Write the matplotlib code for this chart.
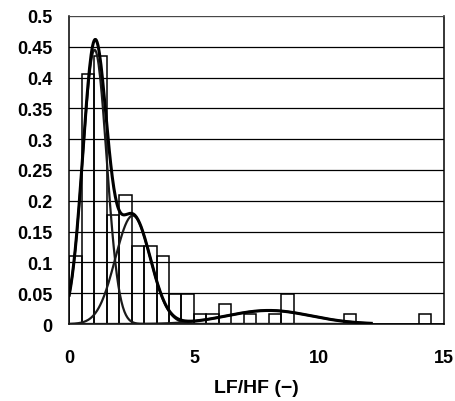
import numpy as np
import matplotlib.pyplot as plt
from matplotlib.ticker import FormatStrFormatter, MultipleLocator

# histogram of LF/HF, bins of 0.5 from 0 to 15
bin_edges = np.arange(0, 15.5, 0.5)
freq = [0.111, 0.405, 0.435, 0.177, 0.210, 0.127, 0.127, 0.111, 0.048, 0.048,
        0.016, 0.016, 0.032, 0.0, 0.016, 0.0, 0.016, 0.048, 0.0, 0.0,
        0.0, 0.0, 0.016, 0.0, 0.0, 0.0, 0.0, 0.0, 0.016, 0.0]

# fitted normal components: peak height, centre, spread
peak = [0.445, 0.176, 0.022]
centre = [1.02, 2.55, 8.0]
spread = [0.48, 0.70, 1.68]

xs = np.linspace(0, 12.1, 400)
comps = [p * np.exp(-(xs - m) ** 2 / (2 * s ** 2)) for p, m, s in zip(peak, centre, spread)]
total = np.sum(comps, axis=0)

plt.rcParams['font.family'] = ['Liberation Sans', 'DejaVu Sans']
plt.rcParams['font.weight'] = 'bold'

fig = plt.figure(figsize=(4.55, 4.02), dpi=100)
ax = fig.add_axes([0.152, 0.1915, 0.823, 0.7665])

ax.bar(bin_edges[:-1], freq, width=0.5, align='edge', fill=False,
       edgecolor='black', linewidth=1.1, zorder=2)

for c in comps:
    ax.plot(xs, c, color='#1a1a1a', linewidth=1.6, zorder=3)
ax.plot(xs, total, color='black', linewidth=2.2, zorder=4)

ax.set_xlim(0, 15)
ax.set_ylim(0, 0.5)
ax.xaxis.set_major_locator(MultipleLocator(5))
ax.yaxis.set_major_locator(MultipleLocator(0.05))
ax.yaxis.set_major_formatter(FormatStrFormatter('%g'))
ax.yaxis.grid(True, color='black', linewidth=0.9, zorder=1)
ax.set_axisbelow(True)

ax.spines['top'].set_color('#555555')
ax.spines['top'].set_linewidth(0.6)
for side in ['left', 'bottom', 'right']:
    ax.spines[side].set_linewidth(1.1)

ax.tick_params(axis='y', length=0, pad=12, labelsize=13)
ax.tick_params(axis='x', length=0, pad=18, labelsize=13)
ax.set_xlabel('LF/HF (\u2212)', fontsize=14, fontweight='bold', labelpad=9)

fig.savefig('out.png', dpi=100)
